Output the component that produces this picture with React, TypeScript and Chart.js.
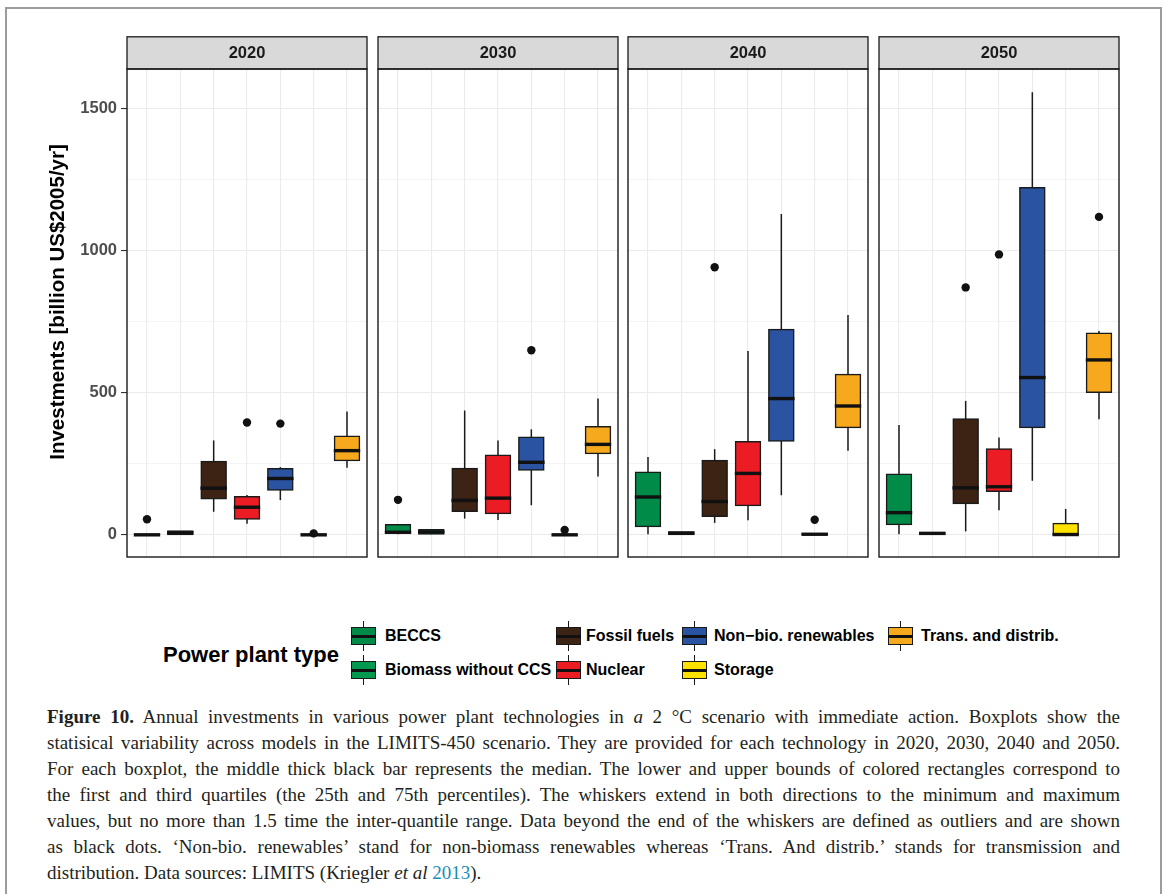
import React, { useEffect, useRef } from 'react';
import { Chart, registerables } from 'chart.js';

Chart.register(...registerables);

// ---------------- data ----------------
const CATEGORIES = [
  'BECCS',
  'Biomass without CCS',
  'Fossil fuels',
  'Nuclear',
  'Non\u2212bio. renewables',
  'Storage',
  'Trans. and distrib.',
];
const COLORS = ['#008B48', '#00994F', '#3D2314', '#EC1C24', '#2A53A1', '#FFE200', '#F7A91E'];
const YEARS = ['2020', '2030', '2040', '2050'];

// one row per year, one value per category
const WHISKER_MIN = [
  [0, 1, 81, 39, 122, 0, 236],
  [0, 2, 57, 52, 104, 0, 205],
  [0, 1, 42, 51, 139, 0, 296],
  [0, 1, 12, 86, 190, 0, 406],
];
const Q1 = [
  [0, 1, 127, 56, 158, 0, 261],
  [6, 3, 83, 75, 228, 0, 286],
  [29, 1, 65, 103, 330, 0, 377],
  [36, 2, 110, 153, 377, 0, 501],
];
const MEDIAN = [
  [0, 7, 164, 97, 198, 0, 296],
  [9, 10, 121, 129, 255, 0, 318],
  [133, 6, 117, 216, 479, 2, 453],
  [78, 5, 165, 169, 553, 1, 615],
];
const Q3 = [
  [0, 13, 258, 134, 232, 0, 347],
  [35, 18, 233, 280, 343, 0, 380],
  [220, 10, 261, 327, 722, 4, 564],
  [213, 8, 407, 302, 1220, 40, 709],
];
const WHISKER_MAX = [
  [0, 13, 332, 140, 238, 0, 434],
  [35, 19, 437, 332, 371, 0, 479],
  [274, 10, 301, 646, 1128, 4, 773],
  [386, 9, 471, 342, 1556, 91, 717],
];
const OUTLIER_CAT = [
  [0, 3, 4, 5],
  [0, 4, 5],
  [2, 5],
  [2, 3, 6],
];
const OUTLIER_VAL = [
  [55, 395, 391, 5],
  [123, 649, 17],
  [941, 53],
  [870, 986, 1118],
];
const Y_GRID = [0, 250, 500, 750, 1000, 1250, 1500];
const Y_LABELS = [0, 500, 1000, 1500];
const Y_TITLE = 'Investments [billion US$2005/yr]';
const LEGEND_TITLE = 'Power plant type';

// ---------------- styling / layout ----------------
const SANS = "'Liberation Sans', Arial, Helvetica, sans-serif";
const SERIF = "'Liberation Serif', 'Times New Roman', serif";
const Y_MIN = -78;
const Y_MAX = 1638;
const BOX_FRACTION = 0.75;
const PANEL_W = 240;
const PLOT_LEFT = [127, 378, 628, 879];
const CANVAS_TOP = 36;
const CANVAS_H = 523;
const STRIP_H = 33;
const AXIS_W = 127;

const panelPlugin = {
  id: 'panelFrame',
  afterDraw(chart: any, _args: any, opts: any) {
    const { ctx, chartArea } = chart;
    const { left, right, top, bottom } = chartArea;
    ctx.save();
    // strip
    ctx.fillStyle = '#D9D9D9';
    ctx.fillRect(left, 0.8, right - left, top - 0.8);
    ctx.strokeStyle = '#1A1A1A';
    ctx.lineWidth = 1.3;
    ctx.strokeRect(left, 0.8, right - left, top - 0.8);
    ctx.fillStyle = '#1A1A1A';
    ctx.font = `bold 16.5px ${SANS}`;
    ctx.textAlign = 'center';
    ctx.textBaseline = 'middle';
    ctx.fillText(opts.year, (left + right) / 2, (top + 0.8) / 2 + 1);
    // panel border
    ctx.lineWidth = 1.4;
    ctx.strokeRect(left, top, right - left, bottom - top);
    // y title
    if (opts.yTitle) {
      ctx.save();
      ctx.translate(58, 302 - CANVAS_TOP);
      ctx.rotate(-Math.PI / 2);
      ctx.font = `bold 20.5px ${SANS}`;
      ctx.fillStyle = '#000';
      ctx.textAlign = 'center';
      ctx.textBaseline = 'middle';
      ctx.fillText(opts.yTitle, 0, 0);
      ctx.restore();
    }
    ctx.restore();
  },
};

function makeConfig(p: number): any {
  const xs = CATEGORIES.map((_, i) => i + 1);
  const first = p === 0;
  return {
    type: 'bar',
    data: {
      datasets: [
        {
          type: 'scatter',
          label: 'outliers',
          data: OUTLIER_CAT[p].map((c, k) => ({ x: c + 1, y: OUTLIER_VAL[p][k] })),
          pointRadius: 4.2,
          pointBackgroundColor: '#111',
          pointBorderWidth: 0,
          order: 0,
        },
        {
          type: 'scatter',
          label: 'median',
          data: xs.map((x, i) => ({ x, y: MEDIAN[p][i] })),
          pointStyle: 'line',
          pointRadius: (c: any) => {
            const s = c.chart.scales.x;
            return Math.abs(s.getPixelForValue(1 + BOX_FRACTION / 2) - s.getPixelForValue(1)) + 0.7;
          },
          pointBorderWidth: 3.4,
          pointBorderColor: '#111',
          order: 1,
        },
        {
          type: 'bar',
          label: 'box',
          data: xs.map((x, i) => ({ x, y: [Q1[p][i], Q3[p][i]] })),
          backgroundColor: COLORS,
          borderColor: '#1A1A1A',
          borderWidth: 1.5,
          borderSkipped: false,
          inflateAmount: 0.75,
          barPercentage: BOX_FRACTION,
          categoryPercentage: 1,
          grouped: false,
          order: 2,
        },
        {
          type: 'bar',
          label: 'whisker',
          data: xs.map((x, i) => ({ x, y: [WHISKER_MIN[p][i], WHISKER_MAX[p][i]] })),
          backgroundColor: '#1A1A1A',
          borderWidth: 0,
          inflateAmount: 0,
          barPercentage: 0.045,
          categoryPercentage: 1,
          grouped: false,
          order: 3,
        },
      ],
    },
    options: {
      responsive: false,
      animation: false,
      events: [],
      layout: { autoPadding: false, padding: { left: first ? 0 : 2, right: 2, top: STRIP_H, bottom: 2 } },
      plugins: {
        legend: { display: false },
        tooltip: { enabled: false },
        panelFrame: { year: YEARS[p], yTitle: first ? Y_TITLE : '' },
      },
      scales: {
        x: {
          type: 'linear',
          min: 0.4,
          max: 7.6,
          offset: false,
          afterBuildTicks: (a: any) => {
            a.ticks = xs.map((v) => ({ value: v }));
          },
          afterFit: (s: any) => {
            s.height = 0;
            s.paddingLeft = 0;
            s.paddingRight = 0;
            s.paddingTop = 0;
            s.paddingBottom = 0;
          },
          ticks: { display: false },
          grid: { offset: false, color: '#EBEBEB', lineWidth: 1.1, drawTicks: false },
          border: { display: false },
        },
        y: {
          type: 'linear',
          min: Y_MIN,
          max: Y_MAX,
          afterBuildTicks: (a: any) => {
            a.ticks = Y_GRID.map((v) => ({ value: v }));
          },
          afterFit: (s: any) => {
            s.width = first ? AXIS_W : 0;
            s.paddingTop = 0;
            s.paddingBottom = 0;
            s.paddingLeft = 0;
            s.paddingRight = 0;
          },
          ticks: {
            display: first,
            autoSkip: false,
            padding: 4,
            color: '#4D4D4D',
            font: { family: SANS, size: 16.5, weight: 'bold' },
            callback: (v: any) => (Y_LABELS.includes(v) ? String(v) : ''),
          },
          grid: {
            color: '#EBEBEB',
            lineWidth: (c: any) => (c.tick && Y_LABELS.includes(c.tick.value) ? 1.1 : 0.55),
            drawTicks: first,
            tickLength: 6,
            tickWidth: 1.1,
            tickColor: (c: any) => (c.tick && Y_LABELS.includes(c.tick.value) ? '#333333' : 'rgba(0,0,0,0)'),
          },
          border: { display: false },
        },
      },
    },
    plugins: [panelPlugin],
  };
}

function Panel({ p }: { p: number }) {
  const ref = useRef<HTMLCanvasElement | null>(null);
  useEffect(() => {
    if (!ref.current) return;
    const chart = new Chart(ref.current, makeConfig(p));
    return () => chart.destroy();
  }, [p]);
  const left = p === 0 ? 0 : PLOT_LEFT[p] - 2;
  const width = p === 0 ? AXIS_W + PANEL_W + 2 : PANEL_W + 4;
  return (
    <canvas
      ref={ref}
      width={width}
      height={CANVAS_H}
      style={{ position: 'absolute', left, top: CANVAS_TOP, width, height: CANVAS_H }}
    />
  );
}

const KEY_LEFT = [351, 556, 682, 888];
const LABEL_LEFT = [385, 586, 714, 921];
const ROW_CENTER = [636, 670];

function LegendKey({ color }: { color: string }) {
  return (
    <div style={{ position: 'relative', width: 25, height: 30 }}>
      <div style={{ position: 'absolute', left: 11.75, top: 0, width: 1.5, height: 30, background: '#1A1A1A' }} />
      <div
        style={{
          position: 'absolute',
          left: 0,
          top: 6,
          width: 25,
          height: 18,
          background: color,
          border: '1.5px solid #1A1A1A',
          boxSizing: 'border-box',
        }}
      />
      <div style={{ position: 'absolute', left: 0, top: 13.5, width: 25, height: 3, background: '#111' }} />
    </div>
  );
}

const CAPTION_LINES: React.ReactNode[] = [
  <>
    <b>Figure 10.</b> Annual investments in various power plant technologies in <i>a</i> 2 °C scenario with immediate
    action. Boxplots show the
  </>,
  <>statisical variability across models in the LIMITS-450 scenario. They are provided for each technology in 2020, 2030, 2040 and 2050.</>,
  <>For each boxplot, the middle thick black bar represents the median. The lower and upper bounds of colored rectangles correspond to</>,
  <>the first and third quartiles (the 25th and 75th percentiles). The whiskers extend in both directions to the minimum and maximum</>,
  <>values, but no more than 1.5 time the inter-quantile range. Data beyond the end of the whiskers are defined as outliers and are shown</>,
  <>as black dots. ‘Non-bio. renewables’ stand for non-biomass renewables whereas ‘Trans. And distrib.’ stands for transmission and</>,
  <>
    distribution. Data sources: LIMITS (Kriegler <i>et al</i> <span style={{ color: '#1A8DB8' }}>2013</span>).
  </>,
];

export default function App() {
  return (
    <div
      style={{
        position: 'absolute',
        left: 0,
        top: 0,
        width: 1167,
        height: 894,
        overflow: 'hidden',
        background: '#FFFFFF',
        fontFamily: SANS,
      }}
    >
      <div
        style={{
          position: 'absolute',
          left: 5,
          top: 7,
          width: 1157,
          height: 1000,
          border: '2px solid #9C9C9C',
          boxSizing: 'border-box',
        }}
      />
      {YEARS.map((_, p) => (
        <Panel key={p} p={p} />
      ))}
      <div
        style={{
          position: 'absolute',
          right: 1167 - 339,
          top: 655 - 13,
          height: 26,
          lineHeight: '26px',
          fontSize: 22,
          fontWeight: 'bold',
          color: '#000',
          whiteSpace: 'nowrap',
          textAlign: 'right',
        }}
      >
        {LEGEND_TITLE}
      </div>
      {CATEGORIES.map((c, i) => {
        const col = Math.floor(i / 2);
        const row = i % 2;
        return (
          <React.Fragment key={c}>
            <div style={{ position: 'absolute', left: KEY_LEFT[col], top: ROW_CENTER[row] - 15 }}>
              <LegendKey color={COLORS[i]} />
            </div>
            <div
              style={{
                position: 'absolute',
                left: LABEL_LEFT[col],
                top: ROW_CENTER[row] - 10,
                height: 20,
                lineHeight: '20px',
                fontSize: 16,
                fontWeight: 'bold',
                color: '#000',
                whiteSpace: 'nowrap',
              }}
            >
              {c}
            </div>
          </React.Fragment>
        );
      })}
      {CAPTION_LINES.map((line, k) => {
        const last = k === CAPTION_LINES.length - 1;
        return (
          <div
            key={k}
            style={{
              position: 'absolute',
              left: 47,
              top: 704 + 26 * k,
              width: 1073,
              height: 26,
              lineHeight: '26px',
              fontFamily: SERIF,
              fontSize: 19,
              color: '#231F20',
              textAlign: last ? 'left' : 'justify',
              textAlignLast: last ? 'left' : 'justify',
            } as any}
          >
            {line}
          </div>
        );
      })}
    </div>
  );
}
